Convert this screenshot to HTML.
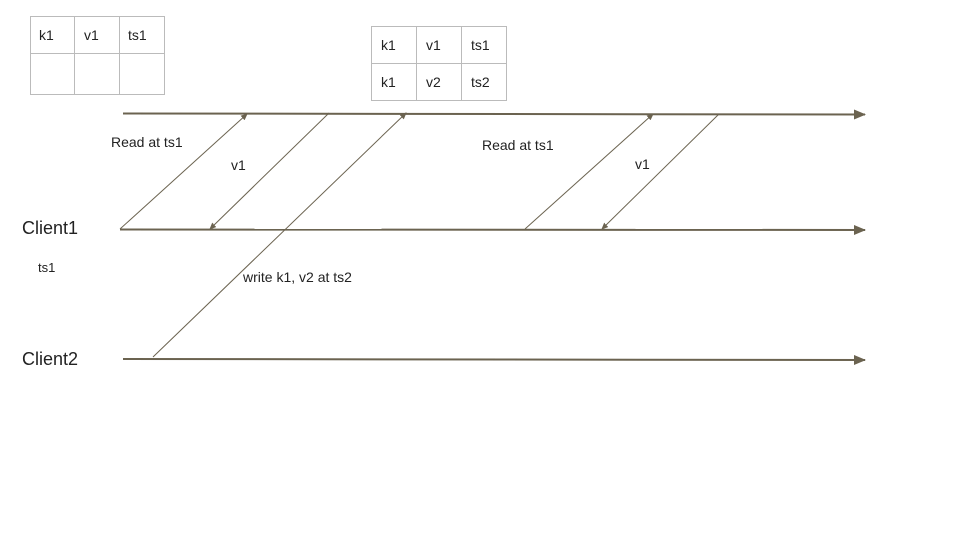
<!DOCTYPE html>
<html><head><style>
body{margin:0;width:960px;height:540px;background:#fff;overflow:hidden}
svg{display:block}
text{font-family:"Liberation Sans","DejaVu Sans",sans-serif;fill:#222}
</style></head><body>
<svg width="960" height="540" viewBox="0 0 960 540">
<defs>
<marker id="big" markerWidth="12" markerHeight="10" refX="11" refY="5" orient="auto" markerUnits="userSpaceOnUse"><path d="M0,0 L12,5 L0,10 z" fill="#6b6350"/></marker>
<marker id="sm" markerWidth="7" markerHeight="6" refX="6" refY="3" orient="auto" markerUnits="userSpaceOnUse"><path d="M0,0 L7,3 L0,6 z" fill="#6b6350"/></marker>
</defs>
<g stroke="#bbb" stroke-width="1" fill="none">
<rect x="30.5" y="16.5" width="134" height="78"/>
<line x1="74.5" y1="16" x2="74.5" y2="95"/><line x1="119.5" y1="16" x2="119.5" y2="95"/><line x1="30" y1="53.5" x2="164" y2="53.5"/>
<rect x="371.5" y="26.5" width="135" height="74"/>
<line x1="416.5" y1="26" x2="416.5" y2="101"/><line x1="461.5" y1="26" x2="461.5" y2="101"/><line x1="371" y1="63.5" x2="507" y2="63.5"/>
</g>
<g font-size="14">
<text x="39" y="40">k1</text><text x="84" y="40">v1</text><text x="128" y="40">ts1</text>
<text x="381" y="50">k1</text><text x="426" y="50">v1</text><text x="471" y="50">ts1</text>
<text x="381" y="87">k1</text><text x="426" y="87">v2</text><text x="471" y="87">ts2</text>
<text x="111" y="147">Read at ts1</text>
<text x="231" y="170">v1</text>
<text x="482" y="150">Read at ts1</text>
<text x="635" y="169">v1</text>
<text x="243" y="282">write k1, v2 at ts2</text>
<text x="38" y="272" font-size="13">ts1</text>
</g>
<text x="22" y="234" font-size="18">Client1</text>
<text x="22" y="365" font-size="18">Client2</text>
<g stroke="#6b6350" fill="none">
<line x1="123" y1="113.5" x2="865" y2="114.5" stroke-width="2" marker-end="url(#big)"/>
<line x1="120" y1="229.5" x2="865" y2="230" stroke-width="2" marker-end="url(#big)"/>
<line x1="123" y1="359" x2="865" y2="360" stroke-width="2" marker-end="url(#big)"/>
<line x1="120" y1="229" x2="247" y2="114" stroke-width="1" marker-end="url(#sm)"/>
<line x1="329" y1="113" x2="210" y2="229" stroke-width="1" marker-end="url(#sm)"/>
<line x1="153" y1="357" x2="406" y2="113" stroke-width="1" marker-end="url(#sm)"/>
<line x1="525" y1="229" x2="653" y2="114" stroke-width="1" marker-end="url(#sm)"/>
<line x1="719" y1="114" x2="602" y2="229" stroke-width="1" marker-end="url(#sm)"/>
</g>
</svg>
</body></html>
